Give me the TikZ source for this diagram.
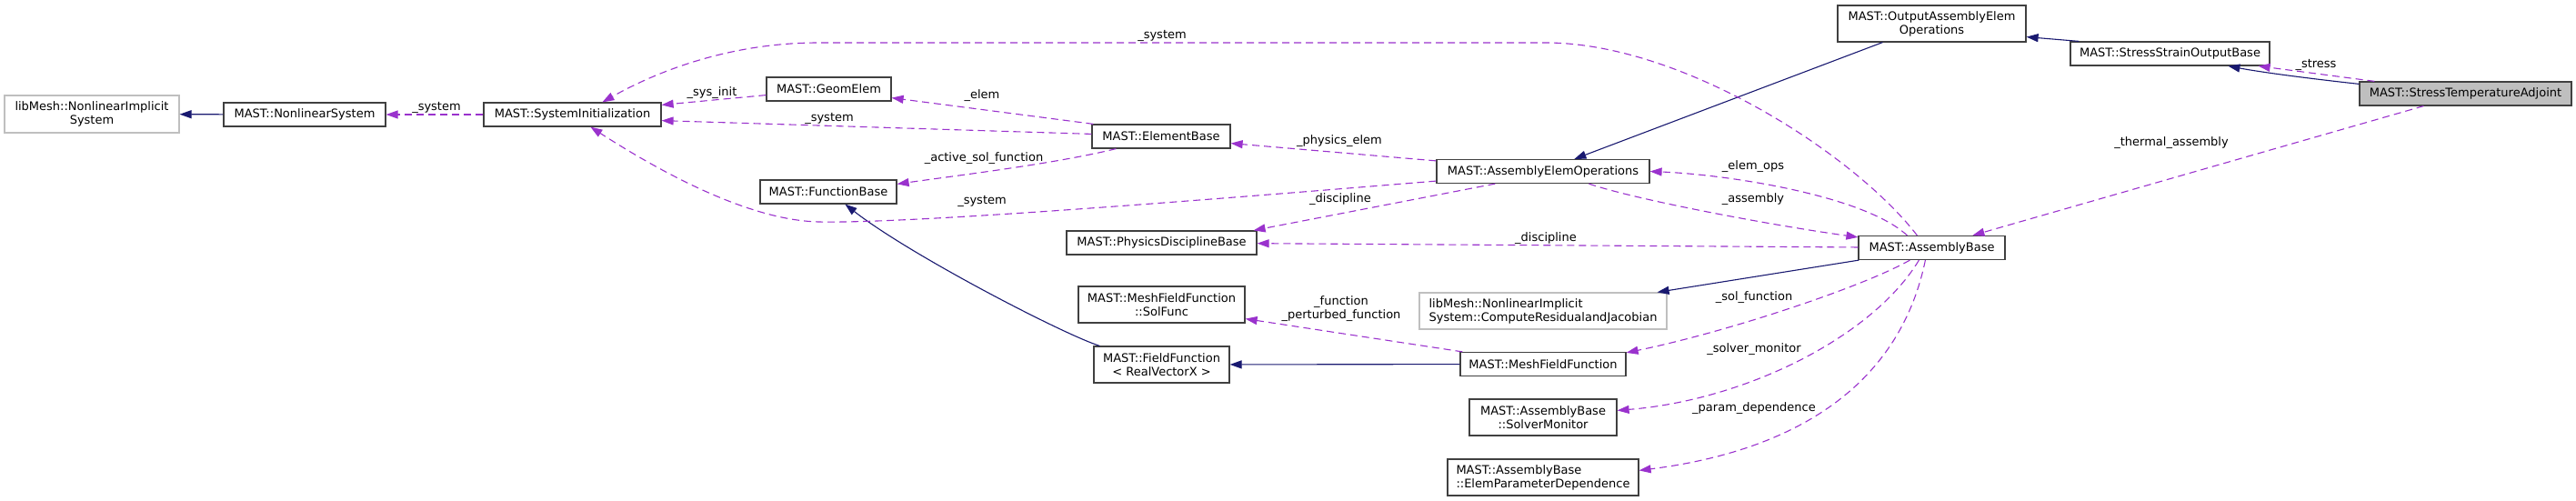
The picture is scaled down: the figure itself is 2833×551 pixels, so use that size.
\documentclass[tikz,border=0pt]{standalone}
\usepackage{fontspec}
\setmainfont{DejaVu Sans}
\usetikzlibrary{arrows.meta}
\definecolor{edgeblue}{HTML}{191970}
\definecolor{edgepurple}{HTML}{9A32CD}
\definecolor{nodeborder}{HTML}{404040}
\definecolor{lightborder}{HTML}{BFBFBF}
\definecolor{hlfill}{HTML}{BFBFBF}
\begin{document}
\begin{tikzpicture}[x=1pt,y=-1pt,
 every node/.style={font=\fontsize{13}{15}\selectfont, inner sep=0pt},
 cls/.style={draw=nodeborder, line width=1.2pt, fill=white, rectangle, minimum height=26pt, align=center},
 ext/.style={cls, draw=lightborder},
 cur/.style={cls, fill=hlfill},
 inh/.style={draw=edgeblue, line width=1.1pt, -{Triangle[length=13pt,width=9pt]}},
 use/.style={draw=edgepurple, line width=1.1pt, dash pattern=on 8pt off 5pt, -{Triangle[length=13pt,width=9pt]}},
 lbl/.style={text=black, align=center}]
\path[use as bounding box] (0,0) rectangle (2833,551);

% nodes
\node[ext, minimum width=192pt, minimum height=41pt] (libNIS) at (101,125.5) {libMesh::NonlinearImplicit\\System};
\node[cls, minimum width=178pt] (NLS) at (335,126) {MAST::NonlinearSystem};
\node[cls, minimum width=195pt] (SI) at (629.5,126) {MAST::SystemInitialization};
\node[cls, minimum width=137pt] (GE) at (911.5,98) {MAST::GeomElem};
\node[cls, minimum width=152pt] (EB) at (1277,150) {MAST::ElementBase};
\node[cls, minimum width=150pt] (FB) at (911,211) {MAST::FunctionBase};
\node[cls, minimum width=209pt] (PDB) at (1277.5,267) {MAST::PhysicsDisciplineBase};
\node[cls, minimum width=234pt] (AEO) at (1697,188.5) {MAST::AssemblyElemOperations};
\node[cls, minimum width=207pt, minimum height=40pt] (OAEO) at (2124.5,26) {MAST::OutputAssemblyElem\\Operations};
\node[cls, minimum width=219pt] (SSOB) at (2386.5,59) {MAST::StressStrainOutputBase};
\node[cur, minimum width=233pt] (STA) at (2711.5,103) {MAST::StressTemperatureAdjoint};
\node[cls, minimum width=161pt] (AB) at (2124.5,272.5) {MAST::AssemblyBase};
\node[ext, minimum width=272pt, minimum height=40pt, align=left] (CRJ) at (1697,342) {libMesh::NonlinearImplicit\\System::ComputeResidualandJacobian};
\node[cls, minimum width=183pt, minimum height=40pt] (SF) at (1277.5,335) {MAST::MeshFieldFunction\\::SolFunc};
\node[cls, minimum width=149pt, minimum height=40pt] (FF) at (1277.5,401) {MAST::FieldFunction\\< RealVectorX >};
\node[cls, minimum width=182pt] (MFF) at (1697,400.5) {MAST::MeshFieldFunction};
\node[cls, minimum width=162pt, minimum height=40pt] (SM) at (1697,459) {MAST::AssemblyBase\\::SolverMonitor};
\node[cls, minimum width=210pt, minimum height=40pt, align=left] (EPD) at (1697,525) {MAST::AssemblyBase\\::ElemParameterDependence};

% inheritance
\draw[inh] (NLS) -- (libNIS);
\draw[inh] ([xshift=50pt]OAEO.south west) -- ([xshift=152pt]AEO.north west);
\draw[inh] ([xshift=10pt]SSOB.north west) -- ([yshift=6pt]OAEO.south east);
\draw[inh] ([yshift=-3pt]STA.north west) .. controls (2545,87) and (2490,80) .. ([xshift=174pt]SSOB.south west);
\draw[inh] ([xshift=1pt]AB.south west) -- ([xshift=-11pt]CRJ.north east);
\draw[inh] (MFF) -- (FF);
\draw[inh] ([xshift=7pt]FF.north west) .. controls (1170,368) and (1000,280) .. ([xshift=94pt]FB.south west);

% usage
\draw[use] (SI) -- (NLS);
\node[lbl] (l1) at (480,118) {\_system};
\draw[use] ([xshift=65pt]AB.north west) .. controls (2040,170) and (1850,47) .. (1700,47) -- (900,47) .. controls (800,47) and (720,80) .. ([xshift=131pt]SI.north west);
\node[lbl] (l2) at (1278,39) {\_system};
\draw[use] ([yshift=7pt]GE.south west) -- ([yshift=-3pt]SI.north east);
\node[lbl] (l3) at (783,102) {\_sys\_init};
\draw[use] ([xshift=2pt]EB.north west) -- ([yshift=4pt]GE.south east);
\node[lbl] (l4) at (1080,105) {\_elem};
\draw[use] ([yshift=-11pt]EB.north west) -- ([yshift=7pt]SI.south east);
\node[lbl] (l5) at (912,130) {\_system};
\draw[use] ([xshift=27pt]EB.south west) .. controls (1160,180) and (1060,192) .. ([yshift=-5pt]FB.north east);
\node[lbl] (l6) at (1082,174) {\_active\_sol\_function};
\draw[use] ([yshift=-2pt]AEO.north west) -- ([yshift=6pt]EB.south east);
\node[lbl] (l7) at (1473,155) {\_physics\_elem};
\draw[use] ([yshift=3pt]AEO.south west) .. controls (1300,222) and (1000,246) .. (900,244) .. controls (820,242) and (720,185) .. ([xshift=118pt]SI.south west);
\node[lbl] (l8) at (1080,221) {\_system};
\draw[use] ([xshift=65pt]AEO.south west) -- ([xshift=-4pt]PDB.north east);
\node[lbl] (l9) at (1474,219) {\_discipline};
\draw[use] ([xshift=54pt]AB.north west) .. controls (2050,215) and (1900,192) .. (AEO.east);
\node[lbl] (l10) at (1928,183) {\_elem\_ops};
\draw[use] ([xshift=168pt]AEO.south west) .. controls (1800,220) and (1950,248) .. ([yshift=-2pt]AB.north west);
\node[lbl] (l11) at (1928,219) {\_assembly};
\draw[use] (AB) -- (PDB);
\node[lbl] (l12) at (1700,262) {\_discipline};
\draw[use] ([xshift=17pt]STA.north west) -- ([xshift=-13pt]SSOB.south east);
\node[lbl] (l13) at (2547,71) {\_stress};
\draw[use] ([xshift=71pt]STA.south west) -- ([xshift=126pt]AB.north west);
\node[lbl] (l14) at (2388,157) {\_thermal\_assembly};
\draw[use] ([xshift=3pt]MFF.north west) -- ([yshift=5pt]SF.south east);
\node[lbl] (l15) at (1475,340) {\_function\\\_perturbed\_function};
\draw[use] ([xshift=57pt]AB.south west) .. controls (2050,315) and (1900,365) .. ([yshift=-1pt]MFF.north east);
\node[lbl] (l16) at (1929,327) {\_sol\_function};
\draw[use] ([xshift=67pt]AB.south west) .. controls (2060,370) and (1920,440) .. ([yshift=-13pt]SM.north east);
\node[lbl] (l17) at (1929,384) {\_solver\_monitor};
\draw[use] ([xshift=74pt]AB.south west) .. controls (2090,420) and (1980,495) .. ([yshift=-13pt]EPD.north east);
\node[lbl] (l18) at (1929,449) {\_param\_dependence};
\end{tikzpicture}
\end{document}
